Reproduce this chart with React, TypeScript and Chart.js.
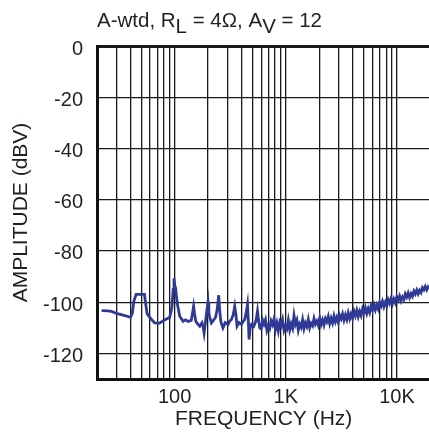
import React, { useEffect, useRef } from "react";
import { Chart, registerables } from "chart.js";

Chart.register(...registerables);

// Frequency (Hz) and amplitude (dBV)
const freqLowHz = [
  22, 25, 27, 30, 35, 38, 40, 41.5, 43, 45, 50, 53.5, 55, 56.5, 60, 66, 73, 81, 90, 94.5,
  97, 98.6, 100.5, 102, 104, 106, 111, 115, 119, 125, 132, 141, 145, 148, 151, 155, 161,
  168, 176, 181, 184, 189, 193, 199.5, 203, 207, 214, 221, 233, 241, 249, 254, 260, 272,
  285, 302, 312, 324, 336, 347, 356, 364, 380, 399, 413, 427, 440, 452, 460, 467, 478,
  491, 515, 537, 547, 556, 566, 583,
];
const ampLowDbv = [
  -103.3, -103.4, -103.6, -104.4, -105.2, -105.6, -105.9, -104.5, -99.5, -97, -97, -97,
  -101, -104.5, -106.1, -108.1, -108.2, -107, -106, -102, -95, -90.7, -93.8, -94.4, -98,
  -100.9, -105.5, -106.5, -107.5, -106.9, -107.5, -107.1, -104, -101.6, -104.5, -107.5,
  -108.5, -109.4, -108.1, -110, -112, -108, -104.7, -99.9, -104, -106, -108.1, -107.3,
  -106, -103, -97.3, -103, -107.5, -110, -108, -108.7, -107.5, -106.8, -105, -101.6,
  -105, -109.4, -108, -108.7, -107.5, -106.8, -104, -100.9, -107, -114.6, -110, -108.7,
  -109.5, -107.5, -105.5, -103.5, -106.5, -110,
];

const freqHighHz = [
  600, 618, 637, 656, 676, 696, 717, 738, 760, 783,
  807, 831, 856, 882, 908, 935, 963, 992, 1022, 1053,
  1085, 1117, 1151, 1185, 1221, 1258, 1295, 1334, 1374, 1416,
  1458, 1502, 1547, 1593, 1641, 1690, 1741, 1793, 1847, 1903,
  1960, 2019, 2079, 2141, 2206, 2272, 2340, 2410, 2482, 2557,
  2634, 2713, 2794, 2878, 2964, 3053, 3145, 3239, 3336, 3436,
  3539, 3646, 3755, 3868, 3984, 4103, 4226, 4353, 4484, 4618,
  4757, 4899, 5046, 5198, 5354, 5514, 5680, 5850, 6025, 6206,
  6392, 6584, 6782, 6985, 7195, 7411, 7633, 7862, 8098, 8341,
  8591, 8849, 9114, 9388, 9669, 9960, 10258, 10566, 10883, 11210,
  11546, 11892, 12249, 12617, 12995, 13385, 13787, 14200, 14626, 15065,
  15517, 15983, 16462, 16956, 17465, 17989, 18528, 19084, 19657, 20000,
];
const ampHighDbv = [
  -110.5, -107.0, -108.6, -106.9, -111.0, -109.2, -110.3, -107.4, -108.8, -106.6,
  -110.6, -108.2, -111.2, -107.8, -109.1, -106.9, -111.0, -109.3, -110.4, -107.1,
  -110.8, -108.5, -110.2, -105.2, -108.6, -107.0, -110.9, -108.6, -109.8, -106.9,
  -110.3, -108.1, -109.5, -106.8, -110.0, -108.3, -109.2, -106.4, -108.6, -107.4,
  -109.0, -106.2, -108.7, -106.9, -108.9, -106.4, -107.6, -105.6, -108.4, -106.3,
  -108.1, -105.4, -107.6, -105.9, -107.9, -105.2, -106.5, -104.6, -107.0, -105.0,
  -106.8, -104.2, -106.5, -104.6, -106.3, -103.5, -105.3, -103.2, -105.6, -103.6,
  -105.2, -102.6, -104.1, -102.2, -104.4, -102.5, -104.1, -101.5, -103.0, -101.0,
  -103.0, -101.1, -102.6, -100.1, -101.5, -99.7, -101.8, -100.0, -101.4, -99.0,
  -100.4, -98.6, -100.6, -98.8, -100.2, -97.9, -99.2, -97.6, -99.5, -98.0,
  -99.0, -96.8, -98.0, -96.4, -98.2, -96.7, -97.7, -95.7, -96.8, -95.3,
  -96.8, -95.4, -96.3, -94.4, -95.2, -93.9, -95.2, -94.0, -94.6, -93.6,
];

// Axis structure
const xGridHz = [
  20, 30, 40, 50, 60, 70, 80, 90, 100, 200, 300, 400, 500, 600, 700, 800, 900, 1000, 2000,
  3000, 4000, 5000, 6000, 7000, 8000, 9000, 10000, 20000,
];
const xLabelHz = [100, 1000, 10000];
const xLabelText = ["100", "1K", "10K"];
const yTicks = [-120, -100, -80, -60, -40, -20, 0];

const FONT = "'Liberation Sans', Arial, Helvetica, sans-serif";
const TEXT = "#231f20";

const titlePlugin = {
  id: "subTitle",
  afterDraw(chart: any) {
    const ctx = chart.ctx;
    ctx.save();
    ctx.fillStyle = TEXT;
    ctx.textBaseline = "alphabetic";
    ctx.textAlign = "left";
    const parts: [string, boolean][] = [
      ["A-wtd, R", false],
      ["L", true],
      [" = 4Ω, A", false],
      ["V", true],
      [" = 12", false],
    ];
    let x = 97;
    const base = 27;
    ctx.font = `20.5px ${FONT}`;
    for (const [t, sub] of parts) {
      ctx.fillText(t, x, sub ? base + 6 : base);
      x += ctx.measureText(t).width;
    }
    ctx.restore();
  },
};

export default function App() {
  const ref = useRef<HTMLCanvasElement | null>(null);

  useEffect(() => {
    if (!ref.current) return;
    const points = [
      ...freqLowHz.map((f, i) => ({ x: f, y: ampLowDbv[i] })),
      ...freqHighHz.map((f, i) => ({ x: f, y: ampHighDbv[i] })),
    ];
    const chart = new Chart(ref.current, {
      type: "line",
      data: {
        datasets: [
          {
            data: points,
            borderColor: "#2f3a96",
            borderWidth: 2.8,
            pointRadius: 0,
            tension: 0,
            fill: false,
          },
        ],
      },
      options: {
        animation: false,
        responsive: false,
        devicePixelRatio: 1,
        layout: { padding: { top: 46, left: 0, right: 1.6, bottom: 0 } },
        plugins: {
          legend: { display: false },
          tooltip: { enabled: false },
          title: { display: false },
        },
        scales: {
          x: {
            type: "logarithmic",
            min: 20,
            max: 20000,
            afterBuildTicks(scale: any) {
              scale.ticks = xGridHz.map((v) => ({ value: v }));
            },
            afterFit(scale: any) {
              scale.height = 60;
              scale.paddingLeft = 0;
              scale.paddingRight = 0;
            },
            ticks: {
              autoSkip: false,
              maxRotation: 0,
              padding: 6,
              color: TEXT,
              font: { family: FONT, size: 20 },
              callback(value: any) {
                const idx = xLabelHz.indexOf(Number(value));
                return idx >= 0 ? xLabelText[idx] : "";
              },
            },
            grid: {
              color: "#1a1a1a",
              lineWidth: 1.3,
              drawTicks: false,
            },
            border: { display: true, color: "#111", width: 3 },
            title: {
              display: true,
              text: "FREQUENCY (Hz)",
              color: TEXT,
              font: { family: FONT, size: 21 },
              padding: { top: 0, bottom: 7.6 },
            },
          },
          y: {
            type: "linear",
            min: -130,
            max: 0,
            afterBuildTicks(scale: any) {
              scale.ticks = yTicks.map((v) => ({ value: v }));
            },
            afterFit(scale: any) {
              scale.width = 97;
              scale.paddingTop = 0;
              scale.paddingBottom = 0;
            },
            ticks: {
              padding: 14,
              labelOffset: 3,
              color: TEXT,
              font: { family: FONT, size: 20 },
            },
            grid: {
              color: "#1a1a1a",
              lineWidth: (c: any) => (c.tick && c.tick.value === 0 ? 3 : 1.3),
              drawTicks: false,
            },
            border: { display: true, color: "#111", width: 3 },
            title: {
              display: true,
              text: "AMPLITUDE (dBV)",
              color: TEXT,
              font: { family: FONT, size: 21 },
              padding: { top: 8.2, bottom: 0 },
            },
          },
        },
      },
      plugins: [titlePlugin],
    });
    return () => chart.destroy();
  }, []);

  return (
    <div
      style={{
        position: "fixed",
        left: 0,
        top: 0,
        width: 429,
        height: 439,
        overflow: "hidden",
        background: "#fff",
      }}
    >
      <canvas ref={ref} width={432} height={439} style={{ width: 432, height: 439, display: "block" }} />
    </div>
  );
}
